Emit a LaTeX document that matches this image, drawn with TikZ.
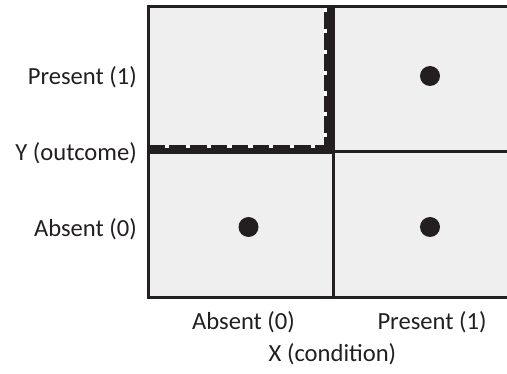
\documentclass[tikz,border=0pt]{standalone}
\usepackage{fontspec}
\setmainfont{Carlito}
\definecolor{cellgray}{HTML}{EEEFEE}
\definecolor{inkgray}{HTML}{231F20}
\begin{document}
\begin{tikzpicture}[x=1pt,y=-1pt,
  axislabel/.style={font=\fontsize{24.6}{29}\selectfont, inner sep=0pt, text=inkgray},
  datadot/.style={circle, fill=inkgray, minimum size=20pt, inner sep=0pt},
  gridline/.style={line width=3pt, draw=inkgray}]
\useasboundingbox (0,0) rectangle (507,374);
\begin{scope}
  \clip (0,0) rectangle (507,374);
  % cells and grid
  \fill[cellgray] (148,6.5) rectangle (520,297.5);
  \draw[gridline] (333,6.5) -- (333,297.5);
  \draw[gridline] (148,151.5) -- (520,151.5);
  \draw[gridline] (520,6.5) -- (148,6.5) -- (148,297.5) -- (520,297.5);
  % heavy notched border of the empty cell
  \fill[inkgray] (148,145.3) rectangle (334.5,154);
  \fill[inkgray] (324.3,6.5) rectangle (334.5,154);
  \foreach \k in {0,...,7}
    \fill[white] ({165+20.8*\k},145.3) rectangle ++(4.3,3);
  \foreach \k in {0,...,6}
    \fill[white] (324.3,{133-20.8*\k}) rectangle ++(3,4.2);
\end{scope}
% observations
\node[datadot] (d01) at (430,76) {};
\node[datadot] (d00) at (248.5,227) {};
\node[datadot] (d10) at (430,227) {};
% Y axis labels
\node[axislabel, anchor=east] (ypres) at (137,77) {Present (1)};
\node[axislabel, anchor=east] (ytitle) at (137,153) {Y (outcome)};
\node[axislabel, anchor=east] (yabs) at (137,229) {Absent (0)};
% X axis labels
\node[axislabel] (xabs) at (243.5,322) {Absent (0)};
\node[axislabel] (xpres) at (432,322) {Present (1)};
\node[axislabel] (xtitle) at (332.5,354) {X (condition)};
\end{tikzpicture}
\end{document}
